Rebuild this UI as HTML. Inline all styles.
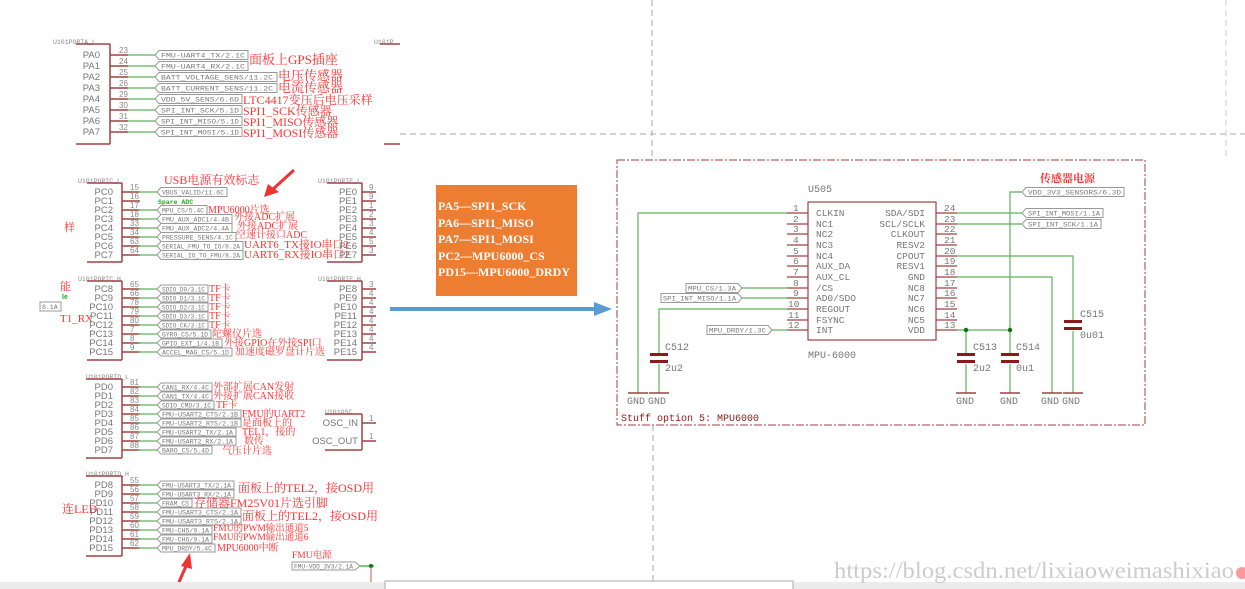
<!DOCTYPE html>
<html><head><meta charset="utf-8"><style>
html,body{margin:0;padding:0;background:#fff;width:1245px;height:589px;overflow:hidden}
svg{display:block}
.pn{font:9.5px "Liberation Sans",sans-serif;fill:#777}
.nm{font:8px "Liberation Sans",sans-serif;fill:#888}
.ul{font:6.5px "Liberation Mono",monospace;fill:#888}
.lt{font:6.5px "Liberation Mono",monospace;fill:#777}
.an{font:11px "Liberation Serif","Noto Serif CJK SC",serif;fill:#f33}
.ab{font:13px "Liberation Serif","Noto Serif CJK SC",serif;fill:#f33}
.r{stroke:#a04040;stroke-width:1.5}
.g{stroke:#5db25d;stroke-width:1.2}
.lb{fill:#fff;stroke:#999;stroke-width:1}
.cn{font:10px "Liberation Mono",monospace;fill:#777}
.cl{font:10px "Liberation Mono",monospace;fill:#777}
.ot{font:bold 12px "Liberation Serif","Noto Serif CJK SC",serif;fill:#fff}
</style></head><body>
<svg width="1245" height="589" viewBox="0 0 1245 589" xmlns="http://www.w3.org/2000/svg">
<line x1="652" y1="0" x2="652" y2="160" stroke="#aaa" stroke-dasharray="6,4"/>
<line x1="653" y1="425" x2="653" y2="582" stroke="#aaa" stroke-dasharray="6,4"/>
<line x1="400" y1="134" x2="1245" y2="134" stroke="#aaa" stroke-dasharray="6,4"/>
<line x1="1226" y1="0" x2="1226" y2="160" stroke="#ccc" stroke-dasharray="6,4"/>

<!-- PORT A -->
<text class="ul" x="53" y="44">U101PORTA_L</text>
<line class="r" x1="76" y1="44" x2="110" y2="44"/><line class="r" x1="110" y1="44" x2="110" y2="144"/><line class="r" x1="76" y1="144" x2="110" y2="144"/>
<text class="ul" x="374" y="44">U101P</text><line class="r" x1="380" y1="44" x2="400" y2="44"/><line class="r" x1="384" y1="144" x2="400" y2="144"/>
<g>
<text class="pn" x="100" y="58" text-anchor="end">PA0</text><line class="r" x1="110" y1="55" x2="128" y2="55"/><line class="g" x1="128" y1="55" x2="155" y2="55"/><text class="nm" x="119" y="53">23</text><path class="lb" d="M155 55 l4 -4.5 h89 v9 h-89z"/><text class="lt" x="161" y="57.5" textLength="84" lengthAdjust="spacingAndGlyphs">FMU-UART4_TX/2.1C</text>
<text class="pn" x="100" y="69" text-anchor="end">PA1</text><line class="r" x1="110" y1="66" x2="128" y2="66"/><line class="g" x1="128" y1="66" x2="155" y2="66"/><text class="nm" x="119" y="64">24</text><path class="lb" d="M155 66 l4 -4.5 h89 v9 h-89z"/><text class="lt" x="161" y="68.5" textLength="84" lengthAdjust="spacingAndGlyphs">FMU-UART4_RX/2.1C</text>
<text class="pn" x="100" y="80" text-anchor="end">PA2</text><line class="r" x1="110" y1="77" x2="128" y2="77"/><line class="g" x1="128" y1="77" x2="155" y2="77"/><text class="nm" x="119" y="75">25</text><path class="lb" d="M155 77 l4 -4.5 h118 v9 h-118z"/><text class="lt" x="161" y="79.5" textLength="112" lengthAdjust="spacingAndGlyphs">BATT_VOLTAGE_SENS/11.2C</text>
<text class="pn" x="100" y="91" text-anchor="end">PA3</text><line class="r" x1="110" y1="88" x2="128" y2="88"/><line class="g" x1="128" y1="88" x2="155" y2="88"/><text class="nm" x="119" y="86">26</text><path class="lb" d="M155 88 l4 -4.5 h118 v9 h-118z"/><text class="lt" x="161" y="90.5" textLength="112" lengthAdjust="spacingAndGlyphs">BATT_CURRENT_SENS/11.2C</text>
<text class="pn" x="100" y="102" text-anchor="end">PA4</text><line class="r" x1="110" y1="99" x2="128" y2="99"/><line class="g" x1="128" y1="99" x2="155" y2="99"/><text class="nm" x="119" y="97">29</text><path class="lb" d="M155 99 l4 -4.5 h83 v9 h-83z"/><text class="lt" x="161" y="101.5" textLength="78" lengthAdjust="spacingAndGlyphs">VDD_5V_SENS/6.6D</text>
<text class="pn" x="100" y="113" text-anchor="end">PA5</text><line class="r" x1="110" y1="110" x2="128" y2="110"/><line class="g" x1="128" y1="110" x2="155" y2="110"/><text class="nm" x="119" y="108">30</text><path class="lb" d="M155 110 l4 -4.5 h83 v9 h-83z"/><text class="lt" x="161" y="112.5" textLength="78" lengthAdjust="spacingAndGlyphs">SPI_INT_SCK/5.1D</text>
<text class="pn" x="100" y="124" text-anchor="end">PA6</text><line class="r" x1="110" y1="121" x2="128" y2="121"/><line class="g" x1="128" y1="121" x2="155" y2="121"/><text class="nm" x="119" y="119">31</text><path class="lb" d="M155 121 l4 -4.5 h83 v9 h-83z"/><text class="lt" x="161" y="123.5" textLength="78" lengthAdjust="spacingAndGlyphs">SPI_INT_MISO/5.1D</text>
<text class="pn" x="100" y="135" text-anchor="end">PA7</text><line class="r" x1="110" y1="132" x2="128" y2="132"/><line class="g" x1="128" y1="132" x2="155" y2="132"/><text class="nm" x="119" y="130">32</text><path class="lb" d="M155 132 l4 -4.5 h83 v9 h-83z"/><text class="lt" x="161" y="134.5" textLength="78" lengthAdjust="spacingAndGlyphs">SPI_INT_MOSI/5.1D</text>
</g>
<text class="ab" x="249" y="64">面板上GPS插座</text>
<text class="ab" x="278" y="80">电压传感器</text>
<text class="ab" x="278" y="92">电流传感器</text>
<text class="an" x="243" y="104" style="font-size:12px">LTC4417变压后电压采样</text>
<text class="an" x="243" y="115" style="font-size:12px">SPI1_SCK传感器</text>
<text class="an" x="243" y="126" style="font-size:12px">SPI1_MISO传感器</text>
<text class="an" x="243" y="137" style="font-size:12px">SPI1_MOSI传感器</text>

<!-- PORT C L -->
<text class="ul" x="78" y="183">U101PORTC_L</text>
<line class="r" x1="87" y1="183" x2="122" y2="183"/><line class="r" x1="122" y1="183" x2="122" y2="262"/><line class="r" x1="87" y1="262" x2="122" y2="262"/>
<text class="an" x="64" y="231">样</text>
<text class="an" x="164" y="184" style="font-size:12px">USB电源有效标志</text>
<g>
<text class="pn" x="113" y="195" text-anchor="end">PC0</text><line class="r" x1="122" y1="192" x2="140" y2="192"/><line class="g" x1="138" y1="192" x2="157" y2="192"/><text class="nm" x="130" y="190">15</text><path class="lb" d="M157 192 l4 -4.5 h66 v9 h-66z"/><text class="lt" x="162" y="194.5" textLength="62" lengthAdjust="spacingAndGlyphs">VBUS_VALID/11.6C</text>
<text class="pn" x="113" y="204" text-anchor="end">PC1</text><line class="r" x1="122" y1="201" x2="140" y2="201"/><text class="nm" x="130" y="199">16</text><text x="158" y="204" style="font:bold 6.5px 'Liberation Mono',monospace;fill:#2a2">Spare ADC</text>
<text class="pn" x="113" y="213" text-anchor="end">PC2</text><line class="r" x1="122" y1="210" x2="140" y2="210"/><line class="g" x1="138" y1="210" x2="157" y2="210"/><text class="nm" x="130" y="208">17</text><path class="lb" d="M157 210 l4 -4.5 h46 v9 h-46z"/><text class="lt" x="162" y="212.5" textLength="42" lengthAdjust="spacingAndGlyphs">MPU_CS/5.4C</text>
<text class="pn" x="113" y="222" text-anchor="end">PC3</text><line class="r" x1="122" y1="219" x2="140" y2="219"/><line class="g" x1="138" y1="219" x2="157" y2="219"/><text class="nm" x="130" y="217">18</text><path class="lb" d="M157 219 l4 -4.5 h71 v9 h-71z"/><text class="lt" x="162" y="221.5" textLength="67" lengthAdjust="spacingAndGlyphs">FMU_AUX_ADC1/4.4B</text>
<text class="pn" x="113" y="231" text-anchor="end">PC4</text><line class="r" x1="122" y1="228" x2="140" y2="228"/><line class="g" x1="138" y1="228" x2="157" y2="228"/><text class="nm" x="130" y="226">33</text><path class="lb" d="M157 228 l4 -4.5 h71 v9 h-71z"/><text class="lt" x="162" y="230.5" textLength="67" lengthAdjust="spacingAndGlyphs">FMU_AUX_ADC2/4.4A</text>
<text class="pn" x="113" y="240" text-anchor="end">PC5</text><line class="r" x1="122" y1="237" x2="140" y2="237"/><line class="g" x1="138" y1="237" x2="157" y2="237"/><text class="nm" x="130" y="235">34</text><path class="lb" d="M157 237 l4 -4.5 h75 v9 h-75z"/><text class="lt" x="162" y="239.5" textLength="71" lengthAdjust="spacingAndGlyphs">PRESSURE_SENS/4.1C</text>
<text class="pn" x="113" y="249" text-anchor="end">PC6</text><line class="r" x1="122" y1="246" x2="140" y2="246"/><line class="g" x1="138" y1="246" x2="157" y2="246"/><text class="nm" x="130" y="244">63</text><path class="lb" d="M157 246 l4 -4.5 h82 v9 h-82z"/><text class="lt" x="162" y="248.5" textLength="78" lengthAdjust="spacingAndGlyphs">SERIAL_FMU_TO_IO/8.2A</text>
<text class="pn" x="113" y="258" text-anchor="end">PC7</text><line class="r" x1="122" y1="255" x2="140" y2="255"/><line class="g" x1="138" y1="255" x2="157" y2="255"/><text class="nm" x="130" y="253">64</text><path class="lb" d="M157 255 l4 -4.5 h82 v9 h-82z"/><text class="lt" x="162" y="257.5" textLength="78" lengthAdjust="spacingAndGlyphs">SERIAL_IO_TO_FMU/8.2A</text>
</g>
<text class="an" x="208" y="213" style="font-size:10px">MPU6000片选</text>
<text class="an" x="234" y="220" style="font-size:10px">外接ADC扩展</text>
<text class="an" x="237" y="229" style="font-size:10px">外接ADC扩展</text>
<text class="an" x="236" y="238" style="font-size:10px">空速计接口ADC</text>
<text class="an" x="244" y="248" style="font-size:11px">UART6_TX接IO串口2</text>
<text class="an" x="244" y="258" style="font-size:11px">UART6_RX接IO串口2</text>
<line x1="294" y1="170" x2="272" y2="190" stroke="#e33" stroke-width="3"/>
<polygon points="264,197 268,184 279,192" fill="#e33"/>

<!-- PORT E L -->
<text class="ul" x="318" y="183">U101PORTE_L</text>
<line class="r" x1="327" y1="183" x2="362" y2="183"/><line class="r" x1="362" y1="183" x2="362" y2="262"/><line class="r" x1="327" y1="262" x2="362" y2="262"/>
<g class="pn" text-anchor="end">
<text x="357" y="195">PE0</text><text x="357" y="204">PE1</text><text x="357" y="213">PE2</text><text x="357" y="222">PE3</text><text x="357" y="231">PE4</text><text x="357" y="240">PE5</text><text x="357" y="249">PE6</text><text x="357" y="258">PE7</text>
</g>
<g class="r"><line x1="362" y1="192" x2="376" y2="192"/><line x1="362" y1="201" x2="376" y2="201"/><line x1="362" y1="210" x2="376" y2="210"/><line x1="362" y1="219" x2="376" y2="219"/><line x1="362" y1="228" x2="376" y2="228"/><line x1="362" y1="237" x2="376" y2="237"/><line x1="362" y1="246" x2="376" y2="246"/><line x1="362" y1="255" x2="376" y2="255"/></g>
<g class="nm"><text x="369" y="190">9</text><text x="369" y="199">9</text><text x="369" y="208">1</text><text x="369" y="217">2</text><text x="369" y="226">3</text><text x="369" y="235">4</text><text x="369" y="244">5</text><text x="369" y="253">3</text></g>

<!-- PORT C H -->
<text class="ul" x="78" y="281">U101PORTC_H</text>
<line class="r" x1="87" y1="281" x2="122" y2="281"/><line class="r" x1="122" y1="281" x2="122" y2="360"/><line class="r" x1="87" y1="360" x2="122" y2="360"/>
<text class="an" x="60" y="290">能</text><text x="62" y="299" style="font:bold 7px sans-serif;fill:#2a2">le</text>
<path class="lb" d="M40 302 h21 v9 h-21z"/><text class="lt" x="42" y="309">8.1A</text>
<text class="an" x="60" y="322">T1_RX</text>
<g>
<text class="pn" x="113" y="292" text-anchor="end">PC8</text><line class="r" x1="122" y1="289" x2="140" y2="289"/><line class="g" x1="138" y1="289" x2="157" y2="289"/><text class="nm" x="130" y="287">65</text><path class="lb" d="M157 289 l4 -4 h47 v8 h-47z"/><text class="lt" x="162" y="291.5" textLength="43" lengthAdjust="spacingAndGlyphs">SDIO_D0/3.1C</text>
<text class="pn" x="113" y="301" text-anchor="end">PC9</text><line class="r" x1="122" y1="298" x2="140" y2="298"/><line class="g" x1="138" y1="298" x2="157" y2="298"/><text class="nm" x="130" y="296">66</text><path class="lb" d="M157 298 l4 -4 h47 v8 h-47z"/><text class="lt" x="162" y="300.5" textLength="43" lengthAdjust="spacingAndGlyphs">SDIO_D1/3.1C</text>
<text class="pn" x="113" y="310" text-anchor="end">PC10</text><line class="r" x1="122" y1="307" x2="140" y2="307"/><line class="g" x1="138" y1="307" x2="157" y2="307"/><text class="nm" x="130" y="305">78</text><path class="lb" d="M157 307 l4 -4 h47 v8 h-47z"/><text class="lt" x="162" y="309.5" textLength="43" lengthAdjust="spacingAndGlyphs">SDIO_D2/3.1C</text>
<text class="pn" x="113" y="319" text-anchor="end">PC11</text><line class="r" x1="122" y1="316" x2="140" y2="316"/><line class="g" x1="138" y1="316" x2="157" y2="316"/><text class="nm" x="130" y="314">79</text><path class="lb" d="M157 316 l4 -4 h47 v8 h-47z"/><text class="lt" x="162" y="318.5" textLength="43" lengthAdjust="spacingAndGlyphs">SDIO_D3/3.1C</text>
<text class="pn" x="113" y="328" text-anchor="end">PC12</text><line class="r" x1="122" y1="325" x2="140" y2="325"/><line class="g" x1="138" y1="325" x2="157" y2="325"/><text class="nm" x="130" y="323">80</text><path class="lb" d="M157 325 l4 -4 h47 v8 h-47z"/><text class="lt" x="162" y="327.5" textLength="43" lengthAdjust="spacingAndGlyphs">SDIO_CK/3.1C</text>
<text class="pn" x="113" y="337" text-anchor="end">PC13</text><line class="r" x1="122" y1="334" x2="140" y2="334"/><line class="g" x1="138" y1="334" x2="157" y2="334"/><text class="nm" x="130" y="332">7</text><path class="lb" d="M157 334 l4 -4 h50 v8 h-50z"/><text class="lt" x="162" y="336.5" textLength="46" lengthAdjust="spacingAndGlyphs">GYRO_CS/5.1D</text>
<text class="pn" x="113" y="346" text-anchor="end">PC14</text><line class="r" x1="122" y1="343" x2="140" y2="343"/><line class="g" x1="138" y1="343" x2="157" y2="343"/><text class="nm" x="130" y="341">8</text><path class="lb" d="M157 343 l4 -4 h61 v8 h-61z"/><text class="lt" x="162" y="345.5" textLength="57" lengthAdjust="spacingAndGlyphs">GPIO_EXT_1/4.1B</text>
<text class="pn" x="113" y="355" text-anchor="end">PC15</text><line class="r" x1="122" y1="352" x2="140" y2="352"/><line class="g" x1="138" y1="352" x2="157" y2="352"/><text class="nm" x="130" y="350">9</text><path class="lb" d="M157 352 l4 -4 h71 v8 h-71z"/><text class="lt" x="162" y="354.5" textLength="67" lengthAdjust="spacingAndGlyphs">ACCEL_MAG_CS/5.1D</text>
</g>
<g class="an" style="font-size:10px"><text x="209" y="292">TF卡</text><text x="209" y="301">TF卡</text><text x="209" y="310">TF卡</text><text x="209" y="319">TF卡</text><text x="209" y="328">TF卡</text><text x="212" y="337">陀螺仪片选</text><text x="224" y="346">外接GPIO在外接SPI口</text><text x="235" y="355">加速度磁罗盘计片选</text></g>

<!-- PORT E H -->
<text class="ul" x="318" y="281">U101PORTE_H</text>
<line class="r" x1="327" y1="281" x2="362" y2="281"/><line class="r" x1="362" y1="281" x2="362" y2="360"/><line class="r" x1="327" y1="360" x2="362" y2="360"/>
<g class="pn" text-anchor="end">
<text x="357" y="292">PE8</text><text x="357" y="301">PE9</text><text x="357" y="310">PE10</text><text x="357" y="319">PE11</text><text x="357" y="328">PE12</text><text x="357" y="337">PE13</text><text x="357" y="346">PE14</text><text x="357" y="355">PE15</text>
</g>
<g class="r"><line x1="362" y1="289" x2="376" y2="289"/><line x1="362" y1="298" x2="376" y2="298"/><line x1="362" y1="307" x2="376" y2="307"/><line x1="362" y1="316" x2="376" y2="316"/><line x1="362" y1="325" x2="376" y2="325"/><line x1="362" y1="334" x2="376" y2="334"/><line x1="362" y1="343" x2="376" y2="343"/><line x1="362" y1="352" x2="376" y2="352"/></g>
<g class="nm"><text x="369" y="287">3</text><text x="369" y="296">4</text><text x="369" y="305">4</text><text x="369" y="314">4</text><text x="369" y="323">4</text><text x="369" y="332">4</text><text x="369" y="341">4</text><text x="369" y="350">4</text></g>

<!-- PORT D L -->
<text class="ul" x="86" y="379">U101PORTD_L</text>
<line class="r" x1="86" y1="379" x2="122" y2="379"/><line class="r" x1="122" y1="379" x2="122" y2="458"/><line class="r" x1="86" y1="458" x2="122" y2="458"/>
<g>
<text class="pn" x="113" y="390" text-anchor="end">PD0</text><line class="r" x1="122" y1="387" x2="140" y2="387"/><line class="g" x1="138" y1="387" x2="157" y2="387"/><text class="nm" x="130" y="385">81</text><path class="lb" d="M157 387 l4 -4 h51 v8 h-51z"/><text class="lt" x="162" y="389.5" textLength="47" lengthAdjust="spacingAndGlyphs">CAN1_RX/4.4C</text>
<text class="pn" x="113" y="399" text-anchor="end">PD1</text><line class="r" x1="122" y1="396" x2="140" y2="396"/><line class="g" x1="138" y1="396" x2="157" y2="396"/><text class="nm" x="130" y="394">82</text><path class="lb" d="M157 396 l4 -4 h51 v8 h-51z"/><text class="lt" x="162" y="398.5" textLength="47" lengthAdjust="spacingAndGlyphs">CAN1_TX/4.4C</text>
<text class="pn" x="113" y="408" text-anchor="end">PD2</text><line class="r" x1="122" y1="405" x2="140" y2="405"/><line class="g" x1="138" y1="405" x2="157" y2="405"/><text class="nm" x="130" y="403">83</text><path class="lb" d="M157 405 l4 -4 h53 v8 h-53z"/><text class="lt" x="162" y="407.5" textLength="49" lengthAdjust="spacingAndGlyphs">SDIO_CMD/3.1C</text>
<text class="pn" x="113" y="417" text-anchor="end">PD3</text><line class="r" x1="122" y1="414" x2="140" y2="414"/><line class="g" x1="138" y1="414" x2="157" y2="414"/><text class="nm" x="130" y="412">84</text><path class="lb" d="M157 414 l4 -4 h80 v8 h-80z"/><text class="lt" x="162" y="416.5" textLength="76" lengthAdjust="spacingAndGlyphs">FMU-USART2_CTS/2.1B</text>
<text class="pn" x="113" y="426" text-anchor="end">PD4</text><line class="r" x1="122" y1="423" x2="140" y2="423"/><line class="g" x1="138" y1="423" x2="157" y2="423"/><text class="nm" x="130" y="421">85</text><path class="lb" d="M157 423 l4 -4 h80 v8 h-80z"/><text class="lt" x="162" y="425.5" textLength="76" lengthAdjust="spacingAndGlyphs">FMU-USART2_RTS/2.1B</text>
<text class="pn" x="113" y="435" text-anchor="end">PD5</text><line class="r" x1="122" y1="432" x2="140" y2="432"/><line class="g" x1="138" y1="432" x2="157" y2="432"/><text class="nm" x="130" y="430">86</text><path class="lb" d="M157 432 l4 -4 h75 v8 h-75z"/><text class="lt" x="162" y="434.5" textLength="71" lengthAdjust="spacingAndGlyphs">FMU-USART2_TX/2.1A</text>
<text class="pn" x="113" y="444" text-anchor="end">PD6</text><line class="r" x1="122" y1="441" x2="140" y2="441"/><line class="g" x1="138" y1="441" x2="157" y2="441"/><text class="nm" x="130" y="439">87</text><path class="lb" d="M157 441 l4 -4 h75 v8 h-75z"/><text class="lt" x="162" y="443.5" textLength="71" lengthAdjust="spacingAndGlyphs">FMU-USART2_RX/2.1A</text>
<text class="pn" x="113" y="453" text-anchor="end">PD7</text><line class="r" x1="122" y1="450" x2="140" y2="450"/><line class="g" x1="138" y1="450" x2="157" y2="450"/><text class="nm" x="130" y="448">88</text><path class="lb" d="M157 450 l4 -4 h51 v8 h-51z"/><text class="lt" x="162" y="452.5" textLength="47" lengthAdjust="spacingAndGlyphs">BARO_CS/5.4D</text>
</g>
<g class="an" style="font-size:10px"><text x="213" y="390">外部扩展CAN发射</text><text x="213" y="399">外接扩展CAN接收</text><text x="216" y="408">TF卡</text><text x="242" y="417">FMU的UART2</text><text x="242" y="426">是面板上的</text><text x="242" y="435">TEL1，接的</text><text x="244" y="444">数传</text><text x="222" y="454">气压计片选</text></g>

<!-- OSC -->
<text class="ul" x="325" y="414">U101OSC</text>
<line class="r" x1="325" y1="414" x2="362" y2="414"/><line class="r" x1="362" y1="414" x2="362" y2="450"/><line class="r" x1="325" y1="450" x2="362" y2="450"/>
<text class="pn" x="358" y="426" text-anchor="end">OSC_IN</text><text class="pn" x="358" y="444" text-anchor="end">OSC_OUT</text>
<line class="r" x1="362" y1="423" x2="376" y2="423"/><line class="r" x1="362" y1="441" x2="376" y2="441"/>
<text class="nm" x="369" y="421">1</text><text class="nm" x="369" y="439">1</text>

<!-- PORT D H -->
<text class="ul" x="86" y="476">U101PORTD_H</text>
<line class="r" x1="86" y1="476" x2="122" y2="476"/><line class="r" x1="122" y1="476" x2="122" y2="556"/><line class="r" x1="86" y1="556" x2="122" y2="556"/>
<text class="an" x="62" y="513" style="font-size:12px">连LED</text>
<g>
<text class="pn" x="113" y="488" text-anchor="end">PD8</text><line class="r" x1="122" y1="485" x2="140" y2="485"/><line class="g" x1="138" y1="485" x2="157" y2="485"/><text class="nm" x="130" y="483">55</text><path class="lb" d="M157 485 l4 -4 h73 v8 h-73z"/><text class="lt" x="162" y="487.5" textLength="69" lengthAdjust="spacingAndGlyphs">FMU-USART3_TX/2.1A</text>
<text class="pn" x="113" y="497" text-anchor="end">PD9</text><line class="r" x1="122" y1="494" x2="140" y2="494"/><line class="g" x1="138" y1="494" x2="157" y2="494"/><text class="nm" x="130" y="492">56</text><path class="lb" d="M157 494 l4 -4 h73 v8 h-73z"/><text class="lt" x="162" y="496.5" textLength="69" lengthAdjust="spacingAndGlyphs">FMU-USART3_RX/2.1A</text>
<text class="pn" x="113" y="506" text-anchor="end">PD10</text><line class="r" x1="122" y1="503" x2="140" y2="503"/><line class="g" x1="138" y1="503" x2="157" y2="503"/><text class="nm" x="130" y="501">57</text><path class="lb" d="M157 503 l4 -4 h31 v8 h-31z"/><text class="lt" x="162" y="505.5" textLength="27" lengthAdjust="spacingAndGlyphs">FRAM_CS</text>
<text class="pn" x="113" y="515" text-anchor="end">PD11</text><line class="r" x1="122" y1="512" x2="140" y2="512"/><line class="g" x1="138" y1="512" x2="157" y2="512"/><text class="nm" x="130" y="510">58</text><path class="lb" d="M157 512 l4 -4 h80 v8 h-80z"/><text class="lt" x="162" y="514.5" textLength="76" lengthAdjust="spacingAndGlyphs">FMU-USART3_CTS/2.1A</text>
<text class="pn" x="113" y="524" text-anchor="end">PD12</text><line class="r" x1="122" y1="521" x2="140" y2="521"/><line class="g" x1="138" y1="521" x2="157" y2="521"/><text class="nm" x="130" y="519">59</text><path class="lb" d="M157 521 l4 -4 h80 v8 h-80z"/><text class="lt" x="162" y="523.5" textLength="76" lengthAdjust="spacingAndGlyphs">FMU-USART3_RTS/2.1A</text>
<text class="pn" x="113" y="533" text-anchor="end">PD13</text><line class="r" x1="122" y1="530" x2="140" y2="530"/><line class="g" x1="138" y1="530" x2="157" y2="530"/><text class="nm" x="130" y="528">60</text><path class="lb" d="M157 530 l4 -4 h51 v8 h-51z"/><text class="lt" x="162" y="532.5" textLength="47" lengthAdjust="spacingAndGlyphs">FMU-CH5/9.1A</text>
<text class="pn" x="113" y="542" text-anchor="end">PD14</text><line class="r" x1="122" y1="539" x2="140" y2="539"/><line class="g" x1="138" y1="539" x2="157" y2="539"/><text class="nm" x="130" y="537">61</text><path class="lb" d="M157 539 l4 -4 h51 v8 h-51z"/><text class="lt" x="162" y="541.5" textLength="47" lengthAdjust="spacingAndGlyphs">FMU-CH6/9.1A</text>
<text class="pn" x="113" y="551" text-anchor="end">PD15</text><line class="r" x1="122" y1="548" x2="140" y2="548"/><line class="g" x1="138" y1="548" x2="157" y2="548"/><text class="nm" x="130" y="546">62</text><path class="lb" d="M157 548 l4 -4 h54 v8 h-54z"/><text class="lt" x="162" y="550.5" textLength="50" lengthAdjust="spacingAndGlyphs">MPU_DRDY/5.4C</text>
</g>
<text class="an" x="238" y="492" style="font-size:12px">面板上的TEL2，接OSD用</text>
<text class="an" x="194" y="507" style="font-size:12px">存储器FM25V01片选引脚</text>
<text class="an" x="242" y="520" style="font-size:12px">面板上的TEL2，接OSD用</text>
<text class="an" x="213" y="531" style="font-size:9.5px">FMU的PWM输出通道5</text>
<text class="an" x="213" y="540" style="font-size:9.5px">FMU的PWM输出通道6</text>
<text class="an" x="217" y="551" style="font-size:10px">MPU6000中断</text>
<line x1="176" y1="589" x2="186" y2="566" stroke="#e33" stroke-width="3"/>
<polygon points="190,553 181,566 192,569" fill="#e33"/>

<text class="an" x="292" y="558" style="font-size:9.5px">FMU电源</text>
<path class="lb" d="M292 562 h63 l5 4 l-5 4 h-63z"/><text class="lt" x="294" y="568.5" textLength="59" lengthAdjust="spacingAndGlyphs">FMU-VDD_3V3/2.1A</text>
<line class="g" x1="360" y1="566" x2="374" y2="566" style="stroke:#2a2"/><circle cx="371" cy="566" r="2" fill="#070"/>
<line x1="371" y1="566" x2="371" y2="582" stroke="#c55"/>

<rect x="0" y="582" width="1245" height="7" fill="#ececec"/>
<rect x="385" y="581" width="408" height="10" fill="#fff" stroke="#aaa"/>
<text x="834" y="578" textLength="400" lengthAdjust="spacingAndGlyphs" style="font:23px 'Liberation Serif',serif;fill:#ccc">https://blog.csdn.net/lixiaoweimashixiao</text>
<circle cx="1242" cy="573" r="6" fill="#f99"/>

<rect x="436" y="185" width="141" height="111" fill="#ED7D31"/>
<text class="ot" x="438" y="210">PA5—SPI1_SCK</text>
<text class="ot" x="438" y="227">PA6—SPI1_MISO</text>
<text class="ot" x="438" y="243">PA7—SPI1_MOSI</text>
<text class="ot" x="438" y="260">PC2—MPU6000_CS</text>
<text class="ot" x="438" y="276">PD15—MPU6000_DRDY</text>

<line x1="390" y1="309" x2="596" y2="309" stroke="#5B9BD5" stroke-width="4"/>
<polygon points="612,309 594,302 594,316" fill="#5B9BD5"/>

<rect x="617" y="160" width="528" height="265" fill="none" stroke="#a04040" stroke-width="1" stroke-dasharray="8,2,2,2"/>
<text x="621" y="421" style="font:10px 'Liberation Mono',monospace;fill:#8b1a1a">Stuff option 5: MPU6000</text>
<text class="an" x="1040" y="182" style="font-size:11px;font-weight:bold">传感器电源</text>
<text class="cl" x="808" y="192">U505</text>
<text class="cl" x="808" y="358">MPU-6000</text>
<rect x="808" y="202" width="128" height="138" fill="none" stroke="#a04040" stroke-width="1.2"/>
<g class="r" style="stroke-width:1.3">
<line x1="787" y1="213" x2="808" y2="213"/><line x1="787" y1="224" x2="808" y2="224"/><line x1="787" y1="234" x2="808" y2="234"/><line x1="787" y1="245" x2="808" y2="245"/><line x1="787" y1="256" x2="808" y2="256"/><line x1="787" y1="266" x2="808" y2="266"/><line x1="787" y1="277" x2="808" y2="277"/><line x1="787" y1="288" x2="808" y2="288"/><line x1="787" y1="298" x2="808" y2="298"/><line x1="787" y1="309" x2="808" y2="309"/><line x1="787" y1="320" x2="808" y2="320"/><line x1="787" y1="330" x2="808" y2="330"/>
<line x1="936" y1="213" x2="957" y2="213"/><line x1="936" y1="224" x2="957" y2="224"/><line x1="936" y1="234" x2="957" y2="234"/><line x1="936" y1="245" x2="957" y2="245"/><line x1="936" y1="256" x2="957" y2="256"/><line x1="936" y1="266" x2="957" y2="266"/><line x1="936" y1="277" x2="957" y2="277"/><line x1="936" y1="288" x2="957" y2="288"/><line x1="936" y1="298" x2="957" y2="298"/><line x1="936" y1="309" x2="957" y2="309"/><line x1="936" y1="320" x2="957" y2="320"/><line x1="936" y1="330" x2="957" y2="330"/>
</g>
<g class="cn" style="font-size:9.5px">
<text x="793" y="211">1</text><text x="793" y="222">2</text><text x="793" y="232">3</text><text x="793" y="243">4</text><text x="793" y="254">5</text><text x="793" y="264">6</text><text x="793" y="275">7</text><text x="793" y="286">8</text><text x="793" y="296">9</text><text x="788" y="307">10</text><text x="788" y="318">11</text><text x="788" y="328">12</text>
<text x="944" y="211">24</text><text x="944" y="222">23</text><text x="944" y="232">22</text><text x="944" y="243">21</text><text x="944" y="254">20</text><text x="944" y="264">19</text><text x="944" y="275">18</text><text x="944" y="286">17</text><text x="944" y="296">16</text><text x="944" y="307">15</text><text x="944" y="318">14</text><text x="944" y="328">13</text>
</g>
<g class="cl" style="font-size:9.5px">
<text x="816" y="216">CLKIN</text><text x="816" y="227">NC1</text><text x="816" y="237">NC2</text><text x="816" y="248">NC3</text><text x="816" y="259">NC4</text><text x="816" y="269">AUX_DA</text><text x="816" y="280">AUX_CL</text><text x="816" y="291">/CS</text><text x="816" y="301">AD0/SDO</text><text x="816" y="312">REGOUT</text><text x="816" y="323">FSYNC</text><text x="816" y="333">INT</text>
</g>
<g class="cl" style="font-size:9.5px" text-anchor="end">
<text x="925" y="216">SDA/SDI</text><text x="925" y="227">SCL/SCLK</text><text x="925" y="237">CLKOUT</text><text x="925" y="248">RESV2</text><text x="925" y="259">CPOUT</text><text x="925" y="269">RESV1</text><text x="925" y="280">GND</text><text x="925" y="291">NC8</text><text x="925" y="301">NC7</text><text x="925" y="312">NC6</text><text x="925" y="323">NC5</text><text x="925" y="333">VDD</text>
</g>
<g class="g" fill="none">
<polyline points="787,213 638,213 638,393"/>
<polyline points="787,309 659,309 659,354"/><line x1="659" y1="364" x2="659" y2="393"/>
<line x1="742" y1="288" x2="787" y2="288"/><line x1="742" y1="298" x2="787" y2="298"/><line x1="772" y1="330" x2="787" y2="330"/>
<line x1="957" y1="213" x2="1022" y2="213"/><line x1="957" y1="224" x2="1022" y2="224"/>
<polyline points="1022,192 1010,192 1010,354"/><line x1="1010" y1="364" x2="1010" y2="393"/>
<polyline points="957,330 1010,330"/><line x1="966" y1="330" x2="966" y2="354"/><line x1="966" y1="364" x2="966" y2="393"/>
<polyline points="957,256 1073,256 1073,321"/><line x1="1073" y1="331" x2="1073" y2="393"/>
<polyline points="957,277 1052,277 1052,393"/>
</g>
<circle cx="966" cy="330" r="2.2" fill="#070"/><circle cx="1010" cy="330" r="2.2" fill="#070"/>
<g fill="#8b1a1a">
<rect x="650" y="353" width="18" height="3"/><rect x="650" y="360" width="18" height="3"/>
<rect x="957" y="353" width="18" height="3"/><rect x="957" y="360" width="18" height="3"/>
<rect x="1001" y="353" width="18" height="3"/><rect x="1001" y="360" width="18" height="3"/>
<rect x="1064" y="320" width="18" height="3"/><rect x="1064" y="327" width="18" height="3"/>
</g>
<g class="cl"><text x="665" y="350">C512</text><text x="665" y="371">2u2</text><text x="973" y="350">C513</text><text x="973" y="371">2u2</text><text x="1016" y="350">C514</text><text x="1016" y="371">0u1</text><text x="1080" y="317">C515</text><text x="1080" y="338">0u01</text></g>
<g class="r" style="stroke-width:1.5">
<line x1="628" y1="393" x2="648" y2="393"/><line x1="649" y1="393" x2="669" y2="393"/><line x1="956" y1="393" x2="976" y2="393"/><line x1="1000" y1="393" x2="1020" y2="393"/><line x1="1042" y1="393" x2="1062" y2="393"/><line x1="1063" y1="393" x2="1083" y2="393"/>
</g>
<g class="cl"><text x="627" y="404">GND</text><text x="648" y="404">GND</text><text x="956" y="404">GND</text><text x="1000" y="404">GND</text><text x="1041" y="404">GND</text><text x="1062" y="404">GND</text></g>
<path class="lb" d="M686 283.5 h52 l4 4.5 l-4 4.5 h-52z"/><text class="lt" x="688" y="290.5" textLength="48" lengthAdjust="spacingAndGlyphs">MPU_CS/1.3A</text>
<path class="lb" d="M661 293.5 h77 l4 4.5 l-4 4.5 h-77z"/><text class="lt" x="663" y="300.5" textLength="73" lengthAdjust="spacingAndGlyphs">SPI_INT_MISO/1.1A</text>
<path class="lb" d="M707 325.5 h61 l4 4.5 l-4 4.5 h-61z"/><text class="lt" x="709" y="332.5" textLength="57" lengthAdjust="spacingAndGlyphs">MPU_DRDY/1.3C</text>
<path class="lb" d="M1022 213 l4 -4.5 h77 v9 h-77z"/><text class="lt" x="1028" y="215.5" textLength="72" lengthAdjust="spacingAndGlyphs">SPI_INT_MOSI/1.1A</text>
<path class="lb" d="M1022 224 l4 -4.5 h75 v9 h-75z"/><text class="lt" x="1028" y="226.5" textLength="70" lengthAdjust="spacingAndGlyphs">SPI_INT_SCK/1.1A</text>
<path class="lb" d="M1022 192 l4 -4.5 h98 v9 h-98z"/><text class="lt" x="1028" y="194.5" textLength="93" lengthAdjust="spacingAndGlyphs">VDD_3V3_SENSORS/6.3D</text>
</svg>
</body></html>
